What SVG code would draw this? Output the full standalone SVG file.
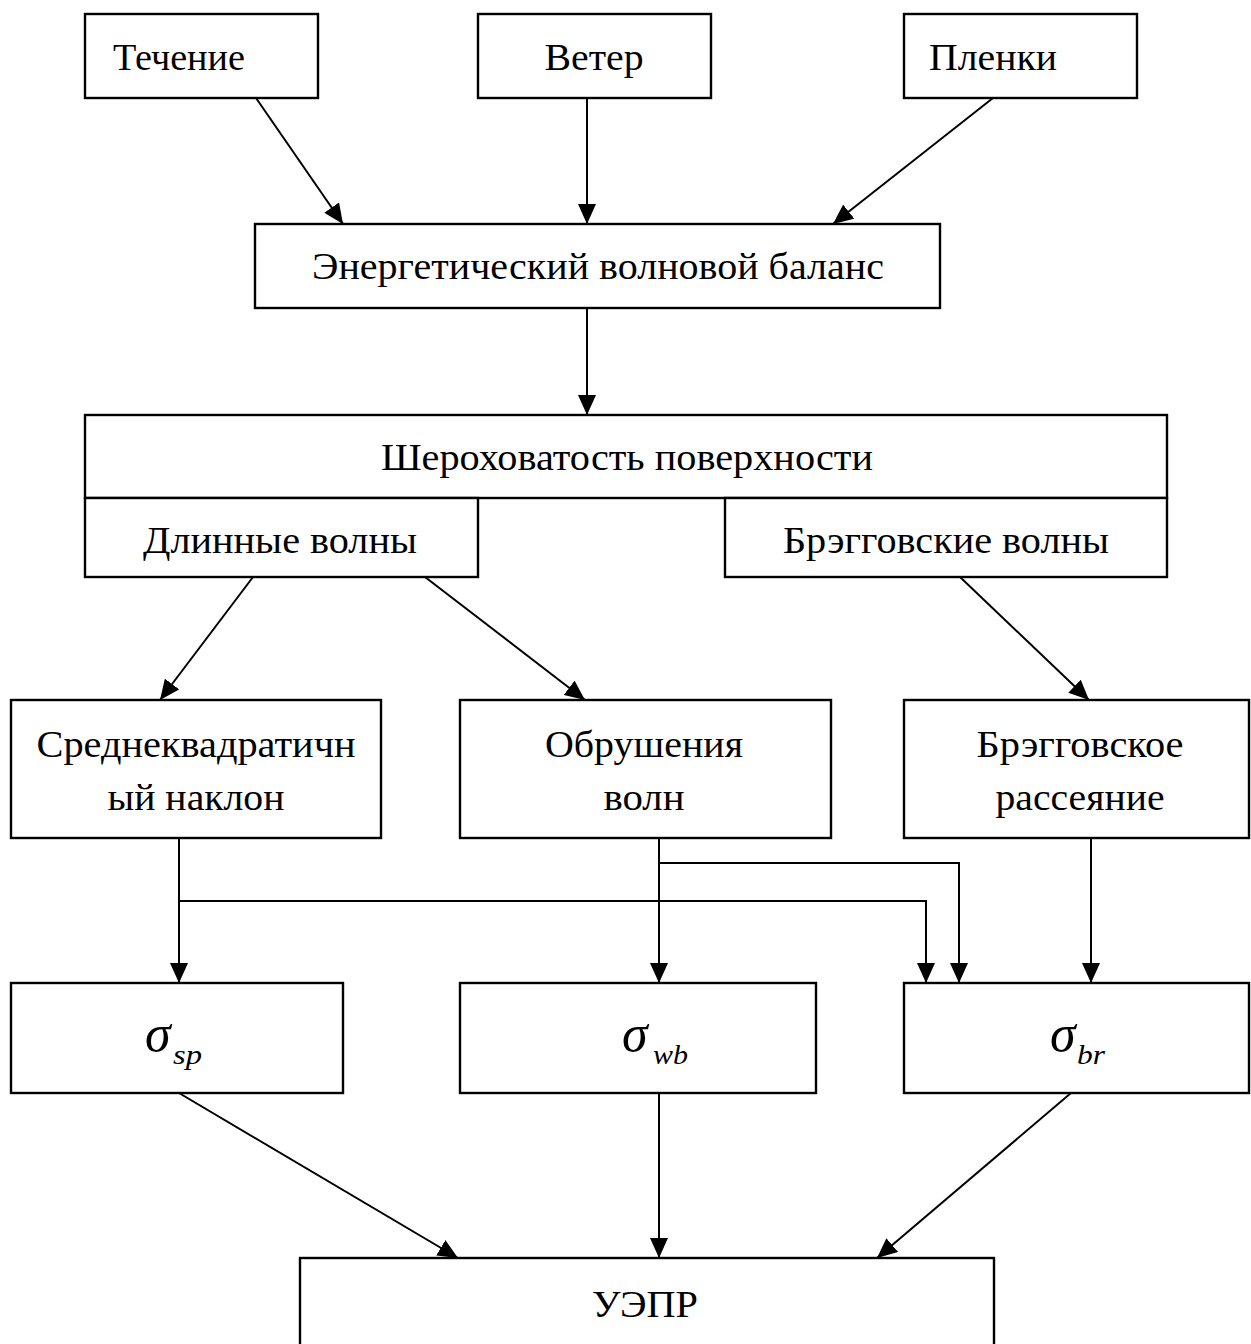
<svg xmlns="http://www.w3.org/2000/svg" width="1251" height="1344" viewBox="0 0 1251 1344">
<style>
.box{fill:#fff;stroke:#000;stroke-width:2.4}
.t{font-family:"Liberation Serif","Times New Roman","DejaVu Serif",serif;font-size:38px;fill:#000}
.c{text-anchor:middle}
.s{font-family:"Liberation Serif","Times New Roman","DejaVu Serif",serif;font-style:italic;fill:#000}
.g{font-size:52px}
.sub{font-size:28px}
.con{fill:none;stroke:#000;stroke-width:2}
</style>
<defs>
<marker id="ah" markerUnits="userSpaceOnUse" markerWidth="21" markerHeight="18" refX="20" refY="9" orient="auto">
<path d="M0,0 L20,9 L0,18 Z" fill="#000"/>
</marker>
</defs>
<rect width="1251" height="1344" fill="#fff"/>
<g id="connectors">
<path class="con" d="M256,98 L343,224" marker-end="url(#ah)"/>
<path class="con" d="M587,98 L587,224" marker-end="url(#ah)"/>
<path class="con" d="M993,98 L833,224" marker-end="url(#ah)"/>
<path class="con" d="M587,308 L587,415" marker-end="url(#ah)"/>
<path class="con" d="M253,577 L160,700" marker-end="url(#ah)"/>
<path class="con" d="M425,577 L585,700" marker-end="url(#ah)"/>
<path class="con" d="M960,577 L1089,700" marker-end="url(#ah)"/>
<path class="con" d="M179,838 L179,983" marker-end="url(#ah)"/>
<path class="con" d="M179,901 L926,901 L926,983" marker-end="url(#ah)"/>
<path class="con" d="M659,838 L659,983" marker-end="url(#ah)"/>
<path class="con" d="M659,863 L959,863 L959,983" marker-end="url(#ah)"/>
<path class="con" d="M1091,838 L1091,983" marker-end="url(#ah)"/>
<path class="con" d="M179,1093 L458,1258" marker-end="url(#ah)"/>
<path class="con" d="M659,1093 L659,1258" marker-end="url(#ah)"/>
<path class="con" d="M1071,1093 L877,1258" marker-end="url(#ah)"/>
</g>
<g id="n-techenie">
<rect class="box" x="85" y="14" width="233" height="84"/>
<text class="t" x="113" y="70" textLength="132" lengthAdjust="spacingAndGlyphs">Течение</text>
</g>
<g id="n-veter">
<rect class="box" x="478" y="14" width="233" height="84"/>
<text class="t c" x="594" y="70" textLength="99" lengthAdjust="spacingAndGlyphs">Ветер</text>
</g>
<g id="n-plenki">
<rect class="box" x="904" y="14" width="233" height="84"/>
<text class="t" x="929" y="70" textLength="128" lengthAdjust="spacingAndGlyphs">Пленки</text>
</g>
<g id="n-energy">
<rect class="box" x="255" y="224" width="685" height="84"/>
<text class="t c" x="598" y="279" textLength="572" lengthAdjust="spacingAndGlyphs">Энергетический волновой баланс</text>
</g>
<g id="n-roughness">
<rect class="box" x="85" y="415" width="1082" height="83"/>
<text class="t c" x="627" y="470" textLength="492" lengthAdjust="spacingAndGlyphs">Шероховатость поверхности</text>
</g>
<g id="n-long">
<rect class="box" x="85" y="498" width="393" height="79"/>
<text class="t c" x="280" y="553" textLength="274" lengthAdjust="spacingAndGlyphs">Длинные волны</text>
</g>
<g id="n-bragg-waves">
<rect class="box" x="725" y="498" width="442" height="79"/>
<text class="t c" x="946" y="553" textLength="326" lengthAdjust="spacingAndGlyphs">Брэгговские волны</text>
</g>
<g id="n-slope">
<rect class="box" x="11" y="700" width="370" height="138"/>
<text class="t c" x="196" y="757" textLength="319" lengthAdjust="spacingAndGlyphs">Среднеквадратичн</text>
<text class="t c" x="196" y="810" textLength="177" lengthAdjust="spacingAndGlyphs">ый наклон</text>
</g>
<g id="n-breaking">
<rect class="box" x="460" y="700" width="371" height="138"/>
<text class="t c" x="644" y="757" textLength="198" lengthAdjust="spacingAndGlyphs">Обрушения</text>
<text class="t c" x="644" y="810" textLength="81" lengthAdjust="spacingAndGlyphs">волн</text>
</g>
<g id="n-bragg-scatter">
<rect class="box" x="904" y="700" width="345" height="138"/>
<text class="t c" x="1080" y="757" textLength="207" lengthAdjust="spacingAndGlyphs">Брэгговское</text>
<text class="t c" x="1080" y="810" textLength="169" lengthAdjust="spacingAndGlyphs">рассеяние</text>
</g>
<g id="n-sigma-sp">
<rect class="box" x="11" y="983" width="332" height="110"/>
<text class="s g" x="145" y="1051">σ</text>
<text class="s sub" x="173" y="1064" textLength="29" lengthAdjust="spacingAndGlyphs">sp</text>
</g>
<g id="n-sigma-wb">
<rect class="box" x="460" y="983" width="356" height="110"/>
<text class="s g" x="622" y="1051">σ</text>
<text class="s sub" x="653" y="1064" textLength="35" lengthAdjust="spacingAndGlyphs">wb</text>
</g>
<g id="n-sigma-br">
<rect class="box" x="904" y="983" width="345" height="110"/>
<text class="s g" x="1050" y="1051">σ</text>
<text class="s sub" x="1077" y="1064" textLength="28" lengthAdjust="spacingAndGlyphs">br</text>
</g>
<g id="n-uepr">
<rect class="box" x="300" y="1258" width="694" height="100"/>
<text class="t c" x="645" y="1317" textLength="106" lengthAdjust="spacingAndGlyphs">УЭПР</text>
</g>
</svg>
